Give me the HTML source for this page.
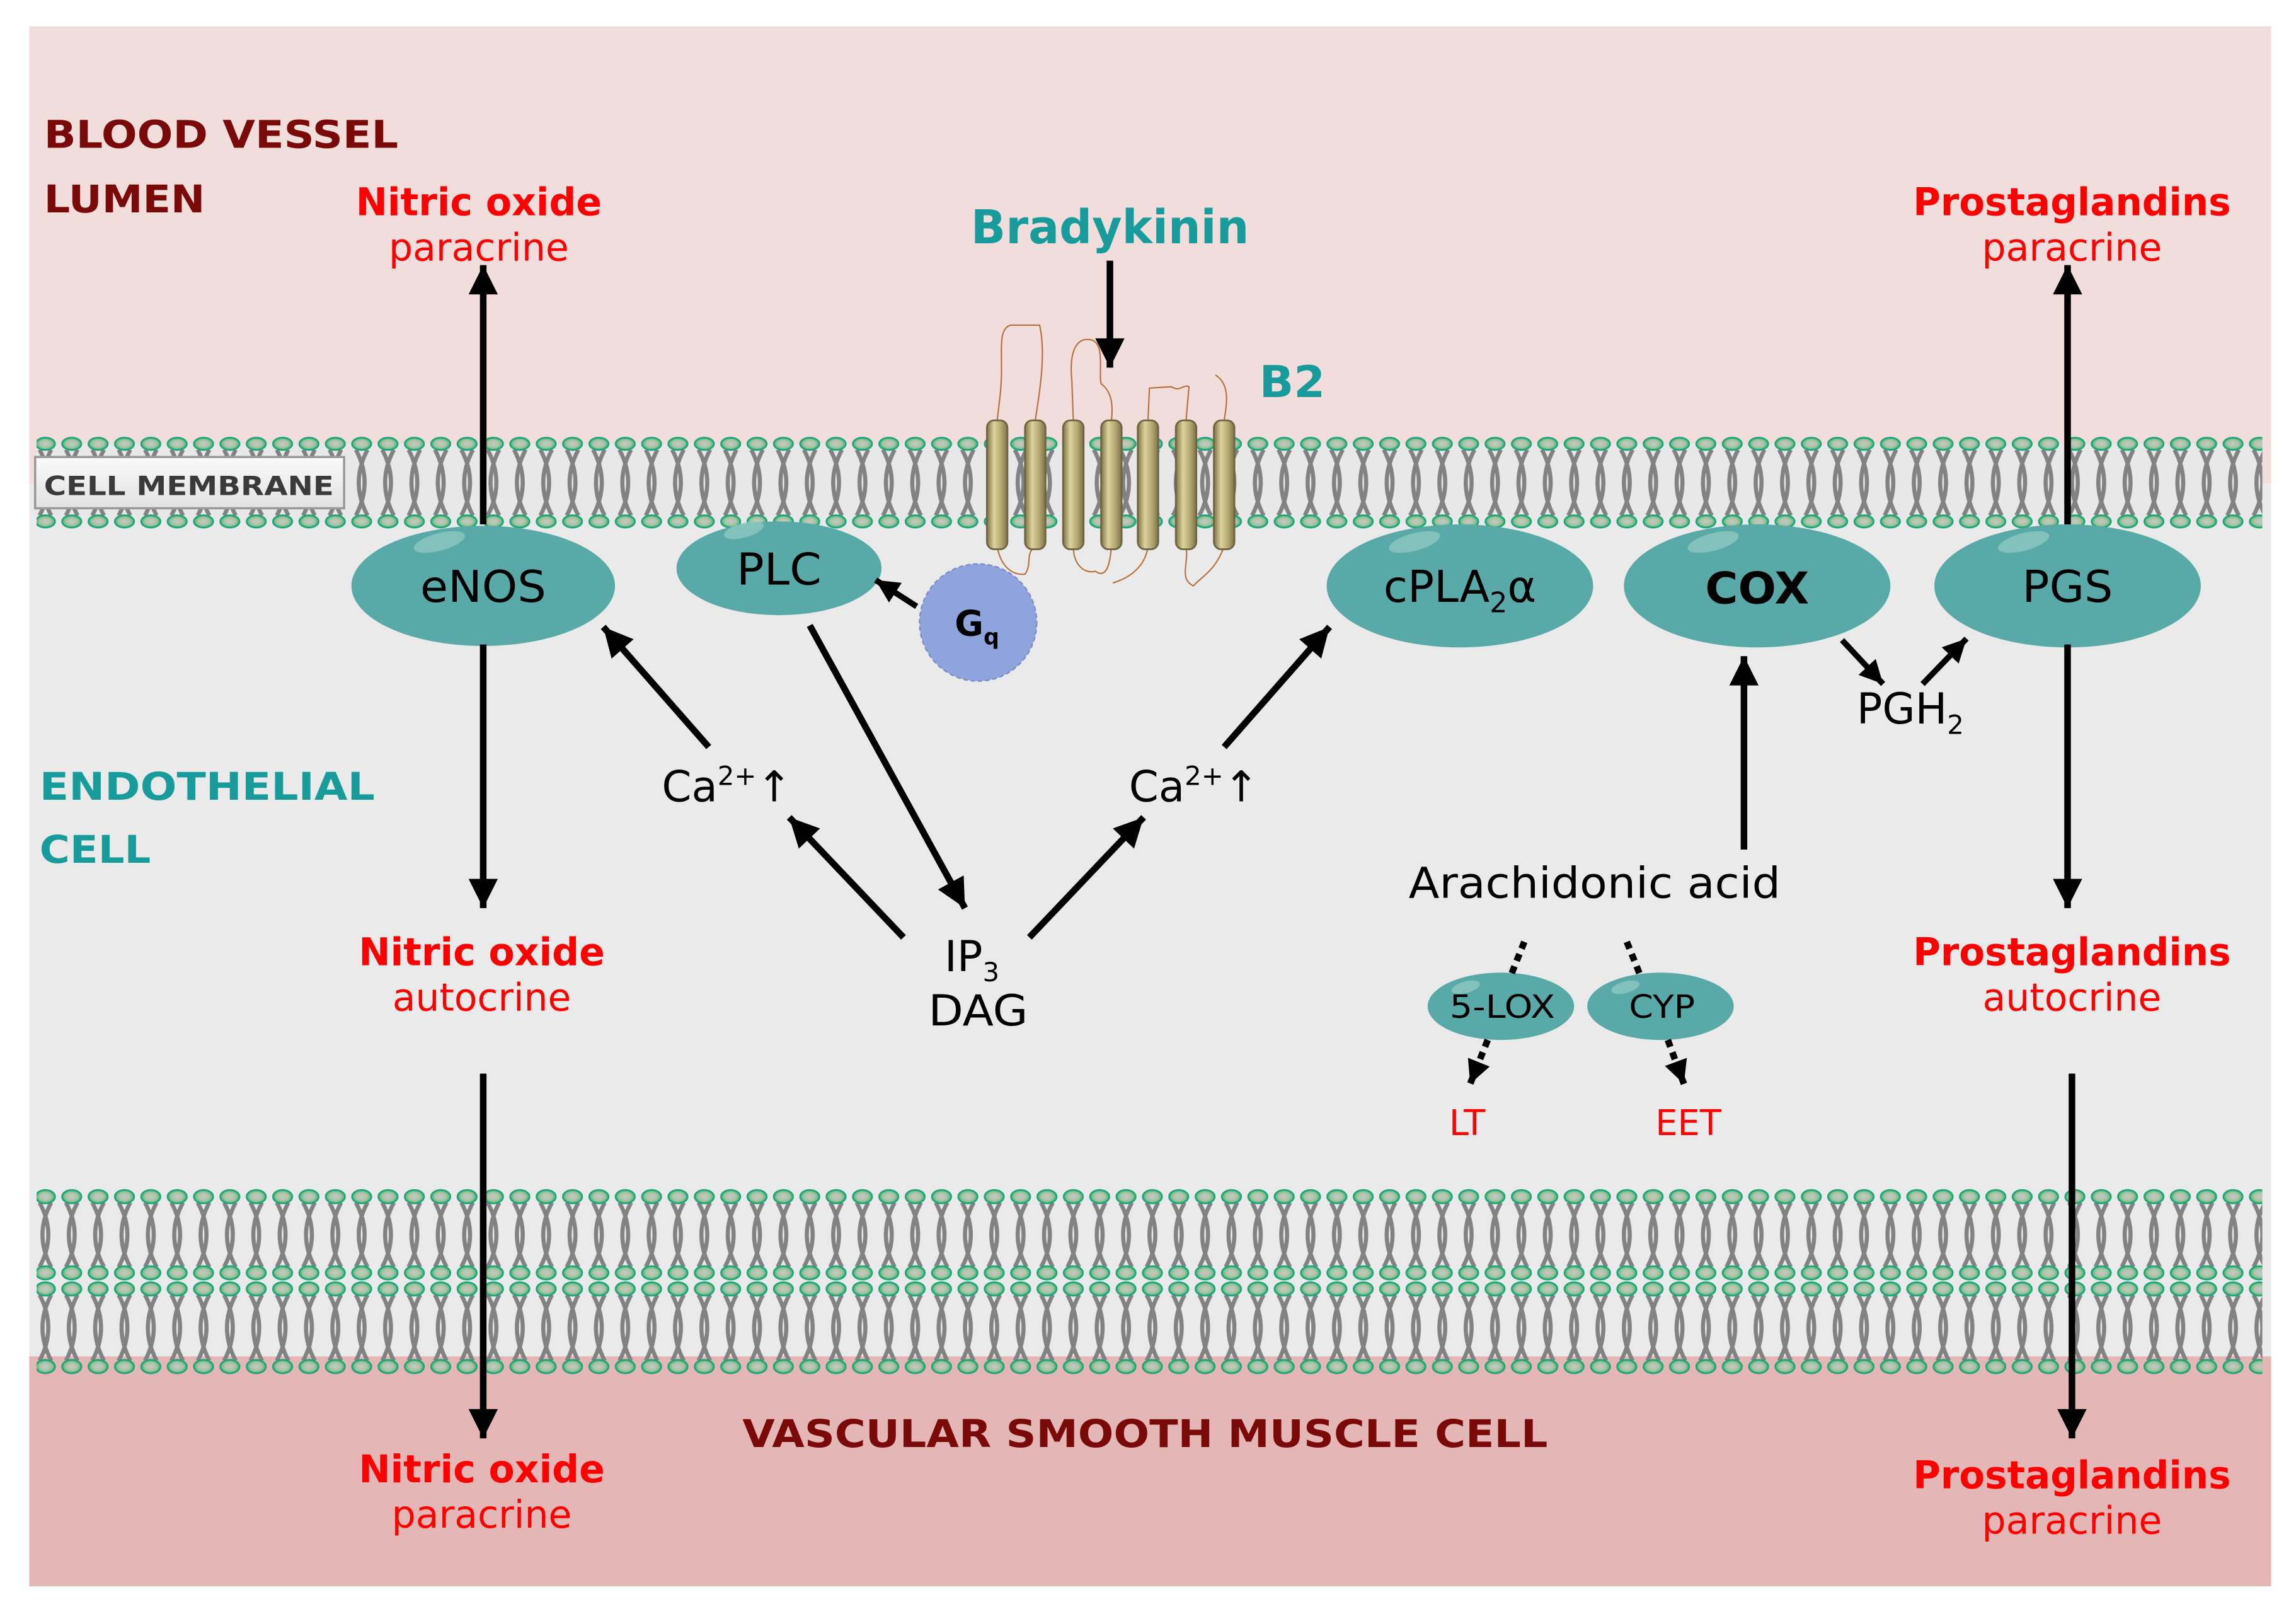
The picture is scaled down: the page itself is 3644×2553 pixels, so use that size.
<!DOCTYPE html>
<html><head><meta charset="utf-8"><style>
html,body{margin:0;padding:0;background:#fff}
svg{display:block}
text{font-family:"DejaVu Sans","Liberation Sans",sans-serif}
</style></head><body>
<svg width="3644" height="2553" viewBox="0 0 1568 1098.5" preserveAspectRatio="none" xmlns="http://www.w3.org/2000/svg">
<defs>
<radialGradient id="hg" cx="0.5" cy="0.5" r="0.55"><stop offset="0" stop-color="#c8c8c8"/><stop offset="0.55" stop-color="#a8c4a4"/><stop offset="1" stop-color="#1fb060"/></radialGradient>
<pattern id="tails53" x="22" y="307" width="18" height="45" patternUnits="userSpaceOnUse"><path d="M5,0 Q17,22.5 5,45 M13,0 Q1,22.5 13,45" fill="none" stroke="#828282" stroke-width="2.8"/></pattern>
<pattern id="tailsB1" x="22" y="821" width="18" height="44" patternUnits="userSpaceOnUse"><path d="M5,0 Q17,22 5,44 M13,0 Q1,22 13,44" fill="none" stroke="#828282" stroke-width="2.8"/></pattern>
<pattern id="tailsB2" x="22" y="884" width="18" height="45" patternUnits="userSpaceOnUse"><path d="M5,0 Q17,22.5 5,45 M13,0 Q1,22.5 13,45" fill="none" stroke="#828282" stroke-width="2.8"/></pattern>
<pattern id="hr303" x="22" y="297" width="18" height="12" patternUnits="userSpaceOnUse"><ellipse cx="9" cy="6" rx="6.6" ry="4.2" fill="url(#hg)" stroke="#19a37a" stroke-width="1.1"/></pattern>
<pattern id="hr356" x="22" y="350" width="18" height="12" patternUnits="userSpaceOnUse"><ellipse cx="9" cy="6" rx="6.6" ry="4.2" fill="url(#hg)" stroke="#19a37a" stroke-width="1.1"/></pattern>
<pattern id="hr817" x="22" y="811" width="18" height="12" patternUnits="userSpaceOnUse"><ellipse cx="9" cy="6" rx="6.6" ry="4.6" fill="url(#hg)" stroke="#19a37a" stroke-width="1.1"/></pattern>
<pattern id="hr869" x="22" y="863" width="18" height="12" patternUnits="userSpaceOnUse"><ellipse cx="9" cy="6" rx="6.6" ry="4.6" fill="url(#hg)" stroke="#19a37a" stroke-width="1.1"/></pattern>
<pattern id="hr880" x="22" y="874" width="18" height="12" patternUnits="userSpaceOnUse"><ellipse cx="9" cy="6" rx="6.6" ry="4.6" fill="url(#hg)" stroke="#19a37a" stroke-width="1.1"/></pattern>
<pattern id="hr933" x="22" y="927" width="18" height="12" patternUnits="userSpaceOnUse"><ellipse cx="9" cy="6" rx="6.6" ry="4.6" fill="url(#hg)" stroke="#19a37a" stroke-width="1.1"/></pattern>
<linearGradient id="rod" x1="0" x2="1"><stop offset="0" stop-color="#7d7248"/><stop offset="0.35" stop-color="#ddd39c"/><stop offset="0.7" stop-color="#b3a672"/><stop offset="1" stop-color="#7d7248"/></linearGradient>
<linearGradient id="lbl" x1="0" y1="0" x2="0" y2="1"><stop offset="0" stop-color="#fafafa"/><stop offset="1" stop-color="#e2e2e2"/></linearGradient>
<marker id="ah" viewBox="0 0 10 10" refX="10" refY="5" markerWidth="22" markerHeight="20" markerUnits="userSpaceOnUse" orient="auto"><path d="M0,0 L10,5 L0,10 z" fill="#000"/></marker>
<marker id="ahs" viewBox="0 0 10 10" refX="10" refY="5" markerWidth="16" markerHeight="16" markerUnits="userSpaceOnUse" orient="auto"><path d="M0,0 L10,5 L0,10 z" fill="#000"/></marker>
</defs>

<!-- backgrounds -->
<rect x="20" y="18" width="1531" height="312" fill="#f2dddd"/>
<rect x="20" y="330" width="1531" height="596" fill="#eaeaea"/>
<rect x="20" y="926" width="1531" height="157" fill="#e5b6b6"/>
<rect x="25" y="303" width="1520" height="53" fill="#e8e8e8"/>

<!-- membranes -->
<rect x="25" y="307" width="1520" height="45" fill="url(#tails53)"/>
<rect x="25" y="821" width="1520" height="44" fill="url(#tailsB1)"/>
<rect x="25" y="884" width="1520" height="45" fill="url(#tailsB2)"/>
<rect x="25" y="297" width="1520" height="12" fill="url(#hr303)"/>
<rect x="25" y="350" width="1520" height="12" fill="url(#hr356)"/>
<rect x="25" y="811" width="1520" height="12" fill="url(#hr817)"/>
<rect x="25" y="863" width="1520" height="12" fill="url(#hr869)"/>
<rect x="25" y="874" width="1520" height="12" fill="url(#hr880)"/>
<rect x="25" y="927" width="1520" height="12" fill="url(#hr933)"/>

<!-- cell membrane label -->
<rect x="24" y="312" width="211" height="35" fill="url(#lbl)" stroke="#999" stroke-width="1.5"/>
<text x="30" y="338" font-size="18" font-weight="bold" fill="#3a3a3a" textLength="198" lengthAdjust="spacingAndGlyphs">CELL MEMBRANE</text>

<!-- B2 receptor loops -->
<g fill="none" stroke="#b5703a" stroke-width="0.9">
<path d="M681,287 L683,270 C686,245 680,225 690,222 L710,222 C714,240 711,262 707,287"/>
<path d="M733,287 L732,260 C730,240 735,230 745,232 C755,234 750,255 752,262 C760,268 760,278 759,287"/>
<path d="M784,287 L785,265 L800,264 C806,268 808,262 812,264 L810,287"/>
<path d="M836,287 C838,275 840,262 830,256"/>
<path d="M681,373 C683,385 690,393 700,392 C705,385 700,378 707,373"/>
<path d="M733,373 C733,385 740,392 748,390 C755,395 758,387 759,373"/>
<path d="M784,373 C782,388 770,395 760,398 M810,373 C812,385 805,395 815,400 C820,394 830,390 836,373"/>
</g>
<g stroke="#6e6440" stroke-width="1.2" fill="url(#rod)">
<rect x="674" y="287" width="14" height="88" rx="5"/>
<rect x="700" y="287" width="14" height="88" rx="5"/>
<rect x="726" y="287" width="14" height="88" rx="5"/>
<rect x="752" y="287" width="14" height="88" rx="5"/>
<rect x="777" y="287" width="14" height="88" rx="5"/>
<rect x="803" y="287" width="14" height="88" rx="5"/>
<rect x="829" y="287" width="14" height="88" rx="5"/>
</g>

<!-- enzymes -->
<g fill="#58a9a7">
<ellipse cx="330" cy="400" rx="90" ry="41"/>
<ellipse cx="532" cy="388" rx="70" ry="32"/>
<ellipse cx="997" cy="400" rx="91" ry="42"/>
<ellipse cx="1200" cy="400" rx="91" ry="42"/>
<ellipse cx="1412" cy="400" rx="91" ry="42"/>
<ellipse cx="1025" cy="687" rx="50" ry="23"/>
<ellipse cx="1134" cy="687" rx="50" ry="23"/>
</g>
<g fill="#8fc7c4" opacity="0.8">
<ellipse cx="300" cy="370" rx="18" ry="6" transform="rotate(-15 300 370)"/>
<ellipse cx="508" cy="362" rx="14" ry="5" transform="rotate(-15 508 362)"/>
<ellipse cx="966" cy="370" rx="18" ry="6" transform="rotate(-15 966 370)"/>
<ellipse cx="1170" cy="370" rx="18" ry="6" transform="rotate(-15 1170 370)"/>
<ellipse cx="1382" cy="370" rx="18" ry="6" transform="rotate(-15 1382 370)"/>
<ellipse cx="1001" cy="674" rx="10" ry="4" transform="rotate(-15 1001 674)"/>
<ellipse cx="1110" cy="674" rx="10" ry="4" transform="rotate(-15 1110 674)"/>
</g>
<circle cx="668" cy="425" r="40" fill="#8fa3dc" stroke="#7a8cc8" stroke-width="1" stroke-dasharray="3,2"/>
<text x="652" y="434" font-size="24" font-weight="bold" fill="#000">G<tspan font-size="15" dy="6">q</tspan></text>

<g font-size="30" fill="#000" text-anchor="middle">
<text x="330" y="411" textLength="86" lengthAdjust="spacingAndGlyphs">eNOS</text>
<text x="532" y="399" textLength="58" lengthAdjust="spacingAndGlyphs">PLC</text>
<text x="997" y="411">cPLA<tspan font-size="19" dy="7">2</tspan><tspan dy="-7">α</tspan></text>
<text x="1200" y="412" font-weight="bold" textLength="71" lengthAdjust="spacingAndGlyphs">COX</text>
<text x="1412" y="411" textLength="62" lengthAdjust="spacingAndGlyphs">PGS</text>
</g>
<g font-size="22" fill="#000" text-anchor="middle">
<text x="1026" y="695" textLength="72" lengthAdjust="spacingAndGlyphs">5-LOX</text>
<text x="1135" y="695" textLength="45" lengthAdjust="spacingAndGlyphs">CYP</text>
</g>

<!-- arrows -->
<g stroke="#000" stroke-width="4.5" fill="none" marker-end="url(#ah)">
<line x1="330" y1="358" x2="330" y2="181"/>
<line x1="330" y1="440" x2="330" y2="620"/>
<line x1="330" y1="733" x2="330" y2="982"/>
<line x1="1412" y1="358" x2="1412" y2="181"/>
<line x1="1412" y1="440" x2="1412" y2="620"/>
<line x1="1415" y1="733" x2="1415" y2="982"/>
<line x1="758" y1="178" x2="758" y2="251"/>
<line x1="484" y1="510" x2="412" y2="428"/>
<line x1="836" y1="510" x2="908" y2="428"/>
<line x1="553" y1="427" x2="659" y2="620"/>
<line x1="617" y1="640" x2="539" y2="558"/>
<line x1="703" y1="640" x2="781" y2="558"/>
<line x1="1191" y1="580" x2="1191" y2="448"/>
</g>
<g stroke="#000" stroke-width="4" fill="none" marker-end="url(#ahs)">
<line x1="626" y1="414" x2="598" y2="396"/>
<line x1="1258" y1="437" x2="1286" y2="467"/>
<line x1="1313" y1="467" x2="1343" y2="436"/>
</g>
<g stroke="#000" stroke-width="4.5" fill="none" stroke-dasharray="5,4">
<line x1="1041" y1="643" x2="1031" y2="668"/>
<line x1="1111" y1="643" x2="1121" y2="668"/>
<line x1="1016" y1="710" x2="1004" y2="740" marker-end="url(#ahs)"/>
<line x1="1139" y1="710" x2="1150" y2="740" marker-end="url(#ahs)"/>
</g>

<!-- labels -->
<g font-weight="bold" fill="#7a0a0a" font-size="26">
<text x="30" y="101" textLength="242" lengthAdjust="spacingAndGlyphs">BLOOD VESSEL</text>
<text x="30" y="145" textLength="110" lengthAdjust="spacingAndGlyphs">LUMEN</text>
<text x="782" y="988" text-anchor="middle" textLength="550" lengthAdjust="spacingAndGlyphs">VASCULAR SMOOTH MUSCLE CELL</text>
</g>
<g font-weight="bold" fill="#179b9b" font-size="26">
<text x="27" y="546" textLength="229" lengthAdjust="spacingAndGlyphs">ENDOTHELIAL</text>
<text x="27" y="589" textLength="76" lengthAdjust="spacingAndGlyphs">CELL</text>
<text x="758" y="166" font-size="32" text-anchor="middle" textLength="190" lengthAdjust="spacingAndGlyphs">Bradykinin</text>
<text x="860" y="271" font-size="30" textLength="45" lengthAdjust="spacingAndGlyphs">B2</text>
</g>
<g fill="#ff0000" font-size="26" text-anchor="middle">
<text x="327" y="147" font-weight="bold" textLength="168" lengthAdjust="spacingAndGlyphs">Nitric oxide</text>
<text x="327" y="178" textLength="123" lengthAdjust="spacingAndGlyphs">paracrine</text>
<text x="1415" y="147" font-weight="bold" textLength="217" lengthAdjust="spacingAndGlyphs">Prostaglandins</text>
<text x="1415" y="178" textLength="123" lengthAdjust="spacingAndGlyphs">paracrine</text>
<text x="329" y="659" font-weight="bold" textLength="168" lengthAdjust="spacingAndGlyphs">Nitric oxide</text>
<text x="329" y="690" textLength="122" lengthAdjust="spacingAndGlyphs">autocrine</text>
<text x="1415" y="659" font-weight="bold" textLength="217" lengthAdjust="spacingAndGlyphs">Prostaglandins</text>
<text x="1415" y="690" textLength="122" lengthAdjust="spacingAndGlyphs">autocrine</text>
<text x="329" y="1012" font-weight="bold" textLength="168" lengthAdjust="spacingAndGlyphs">Nitric oxide</text>
<text x="329" y="1043" textLength="123" lengthAdjust="spacingAndGlyphs">paracrine</text>
<text x="1415" y="1016" font-weight="bold" textLength="217" lengthAdjust="spacingAndGlyphs">Prostaglandins</text>
<text x="1415" y="1047" textLength="123" lengthAdjust="spacingAndGlyphs">paracrine</text>
<text x="1002" y="775" font-size="24">LT</text>
<text x="1153" y="775" font-size="24">EET</text>
</g>
<g fill="#000" font-size="29">
<text x="452" y="547">Ca<tspan font-size="18" dy="-11">2+</tspan><tspan dy="11">↑</tspan></text>
<text x="771" y="547">Ca<tspan font-size="18" dy="-11">2+</tspan><tspan dy="11">↑</tspan></text>
<text x="645" y="663">IP<tspan font-size="18" dy="7">3</tspan></text>
<text x="668" y="700" text-anchor="middle" textLength="68" lengthAdjust="spacingAndGlyphs">DAG</text>
<text x="1089" y="613" text-anchor="middle" textLength="254" lengthAdjust="spacingAndGlyphs">Arachidonic acid</text>
<text x="1268" y="494">PGH<tspan font-size="18" dy="7">2</tspan></text>
</g>
</svg>
</body></html>
